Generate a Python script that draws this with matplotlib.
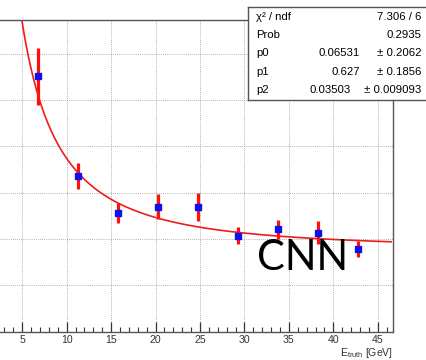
import numpy as np
import matplotlib.pyplot as plt
from matplotlib.ticker import MultipleLocator

plt.rcParams['font.family'] = ['Liberation Sans', 'DejaVu Sans']
plt.rcParams['mathtext.fontset'] = 'custom'
plt.rcParams['mathtext.rm'] = 'Liberation Sans'
plt.rcParams['mathtext.it'] = 'Liberation Sans:italic'

# bin centres and measured resolution
energy = [6.75, 11.25, 15.75, 20.25, 24.75, 29.25, 33.75, 38.25, 42.75]
resolution = [0.1103, 0.0671, 0.0510, 0.0539, 0.0536, 0.0414, 0.0441, 0.0426, 0.0357]
res_err = [0.0123, 0.0055, 0.0043, 0.0055, 0.0060, 0.0037, 0.0040, 0.0049, 0.0035]

# fit result from the stats box
par_names = ['p0', 'p1', 'p2']
par_values = [0.06531, 0.627, 0.03503]
par_errors = [0.2062, 0.1856, 0.009093]
par_value_text = ['0.06531', '0.627', '0.03503']
par_error_text = ['0.2062', '0.1856', '0.009093']
chi2_text = '7.306 / 6'
prob_text = '0.2935'

W, H = 426, 360


def px(x, y):
    return x / W, 1 - y / H


fig = plt.figure(figsize=(W / 100, H / 100), dpi=100)
ax = fig.add_axes([0, 1 - 331.5 / H, 393.3 / W, (331.5 - 20) / H])

ax.set_xlim(2.5, 46.75)
ax.set_ylim(0, 0.1345)

ax.grid(True, color='#9a9a9a', linestyle=(0, (1, 1.5)), linewidth=0.6)
ax.xaxis.set_major_locator(MultipleLocator(5))
ax.xaxis.set_minor_locator(MultipleLocator(1))
ax.yaxis.set_major_locator(MultipleLocator(0.02))
ax.set_axisbelow(True)

ax.tick_params(axis='x', which='both', direction='in', top=False, labelsize=7.6,
               colors='#333333', pad=2.5)
ax.tick_params(axis='x', which='major', length=7.2, width=0.9)
ax.tick_params(axis='x', which='minor', length=3.6, width=0.8)
ax.tick_params(axis='y', which='both', left=False, labelleft=False)
ax.spines['left'].set_visible(False)
for s in ['bottom', 'top', 'right']:
    ax.spines[s].set_color('#555555')
    ax.spines[s].set_linewidth(1.0)

# fit curve sqrt(p0^2/E + p1^2/E^2 + p2^2)
p0, p1, p2 = par_values
e_fit = np.linspace(3.0, 46.5, 400)
ax.plot(e_fit, np.sqrt(p0**2 / e_fit + p1**2 / e_fit**2 + p2**2), color='#ee1c1c', lw=1.2,
        zorder=3)

ax.errorbar(energy, resolution, yerr=res_err, fmt='none', ecolor='#ff1010', elinewidth=2.3,
            capsize=0, zorder=4)
ax.plot(energy, resolution, 's', color='#1010ee', markersize=4.6, zorder=5)

fig.text(*px(393.3, 352.5), r'E$_{\mathrm{truth}}$ [GeV]', ha='right', va='center',
         fontsize=7.6, color='#333333')

fig.text(*px(257, 258), 'CNN', fontsize=30, family='Lato', color='black',
         ha='left', va='center')

# stats box
box = fig.add_axes([248 / W, 1 - 100 / H, 0.5, 93.3 / H])
box.set_xticks([])
box.set_yticks([])
for s in box.spines.values():
    s.set_color('#555555')
    s.set_linewidth(1.0)

rows_y = [16.7, 35, 53.3, 71.7, 90]
fs = 8.2
fig.text(*px(256, rows_y[0]), 'χ² / ndf', fontsize=fs, va='center', ha='left')
fig.text(*px(421.7, rows_y[0]), chi2_text, fontsize=fs, va='center', ha='right')
fig.text(*px(256, rows_y[1]), 'Prob', fontsize=fs, va='center', ha='left')
fig.text(*px(421.7, rows_y[1]), prob_text, fontsize=fs, va='center', ha='right')
val_right = [360, 360, 351]
for i, name in enumerate(par_names):
    y = rows_y[2 + i]
    fig.text(*px(256, y), name, fontsize=fs, va='center', ha='left')
    fig.text(*px(val_right[i], y), par_value_text[i], fontsize=fs, va='center', ha='right')
    fig.text(*px(421.7, y), '± ' + par_error_text[i], fontsize=fs, va='center', ha='right')

fig.savefig('out.png', dpi=100)
